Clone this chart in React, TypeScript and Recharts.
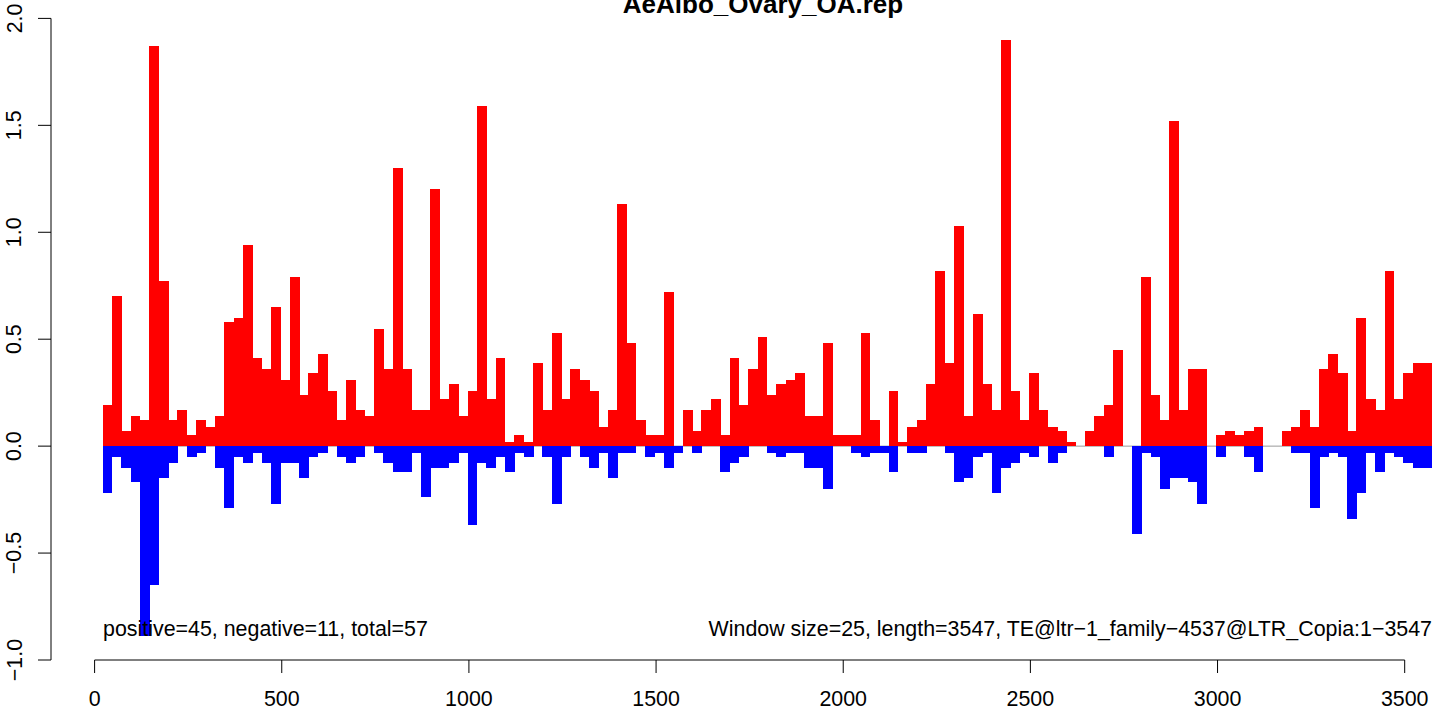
import { BarChart, Bar, XAxis, YAxis, ReferenceLine } from "recharts";

const windowSize = 25;

// mean signal per 25 bp window
const positive = [
  0.19, 0.7, 0.07, 0.14, 0.12, 1.87, 0.77, 0.12, 0.17, 0.05,
  0.12, 0.09, 0.14, 0.58, 0.6, 0.94, 0.41, 0.36, 0.65, 0.31,
  0.79, 0.24, 0.34, 0.43, 0.26, 0.12, 0.31, 0.17, 0.14, 0.55,
  0.36, 1.3, 0.36, 0.17, 0.17, 1.2, 0.22, 0.29, 0.14, 0.26,
  1.59, 0.22, 0.41, 0.02, 0.05, 0.02, 0.39, 0.17, 0.53, 0.22,
  0.36, 0.31, 0.26, 0.09, 0.17, 1.13, 0.48, 0.12, 0.05, 0.05,
  0.72, 0, 0.17, 0.07, 0.17, 0.22, 0.05, 0.41, 0.19, 0.36,
  0.51, 0.24, 0.29, 0.31, 0.34, 0.14, 0.14, 0.48, 0.05, 0.05,
  0.05, 0.53, 0.12, 0, 0.26, 0.02, 0.09, 0.12, 0.29, 0.82,
  0.39, 1.03, 0.14, 0.62, 0.29, 0.17, 1.9, 0.26, 0.12, 0.34,
  0.17, 0.09, 0.07, 0.02, 0, 0.07, 0.14, 0.19, 0.45, 0,
  0, 0.79, 0.24, 0.12, 1.52, 0.17, 0.36, 0.36, 0, 0.05,
  0.07, 0.05, 0.07, 0.09, 0, 0, 0.07, 0.09, 0.17, 0.09,
  0.36, 0.43, 0.34, 0.07, 0.6, 0.22, 0.17, 0.82, 0.22, 0.34,
  0.39, 0.39,
];

const negative = [
  -0.22, -0.05, -0.1, -0.17, -0.89, -0.65, -0.15, -0.08, 0, -0.05,
  -0.03, 0, -0.1, -0.29, -0.05, -0.08, -0.03, -0.08, -0.27, -0.08,
  -0.08, -0.15, -0.05, -0.03, 0, -0.05, -0.08, -0.05, 0, -0.03,
  -0.08, -0.12, -0.12, -0.03, -0.24, -0.1, -0.1, -0.08, -0.03, -0.37,
  -0.08, -0.1, -0.05, -0.12, -0.03, -0.05, 0, -0.05, -0.27, -0.05,
  0, -0.05, -0.1, -0.03, -0.15, -0.03, -0.03, 0, -0.05, -0.03,
  -0.1, -0.03, 0, -0.03, 0, 0, -0.12, -0.08, -0.05, 0,
  0, -0.03, -0.05, -0.03, -0.03, -0.1, -0.1, -0.2, 0, 0,
  -0.03, -0.05, -0.03, -0.03, -0.12, 0, -0.03, -0.03, 0, 0,
  -0.03, -0.17, -0.15, -0.05, -0.03, -0.22, -0.1, -0.08, -0.03, -0.05,
  0, -0.08, -0.03, 0, 0, 0, 0, -0.05, 0, 0,
  -0.41, -0.03, -0.05, -0.2, -0.15, -0.15, -0.17, -0.27, 0, -0.05,
  0, 0, -0.05, -0.12, 0, 0, 0, -0.03, -0.03, -0.29,
  -0.05, -0.03, -0.05, -0.34, -0.22, -0.03, -0.12, -0.03, -0.05, -0.08,
  -0.1, -0.1,
];

const xTicks = [0, 500, 1000, 1500, 2000, 2500, 3000, 3500];
const yTicks = [-1, -0.5, 0, 0.5, 1, 1.5, 2];
const yTickLabels = ["\u22121.0", "\u22120.5", "0.0", "0.5", "1.0", "1.5", "2.0"];

const title = "AeAlbo_Ovary_OA.rep";
const leftNote = "positive=45, negative=11, total=57";
const rightNote = "Window size=25, length=3547, TE@ltr\u22121_family\u22124537@LTR_Copia:1\u22123547";

const data = positive.map((p, i) => ({
  pos: (i + 1) * windowSize + 10,
  positive: p,
  negative: negative[i],
}));

const W = 1441;
const H = 708;
const xMin = -116.5;
const xMax = 3597;
const plotLeft = 51;
const barPx = (windowSize * (W - plotLeft)) / (xMax - xMin);
const font = "'Liberation Sans', Arial, Helvetica, sans-serif";
const fs = 21.4;

// recharts rounds bar widths, so redraw each bar at the exact window width
const WindowBar = (props: any) => {
  const { x, width, fill } = props;
  let { y, height } = props;
  if (!height) return null;
  if (height < 0) {
    y = y + height;
    height = -height;
  }
  const cx = x + width / 2;
  return (
    <rect
      x={cx - barPx / 2}
      y={y}
      width={barPx + 0.5}
      height={height}
      fill={fill}
      shapeRendering="crispEdges"
    />
  );
};

const XTick = (props: any) => (
  <text x={props.x} y={706} textAnchor="middle" fontSize={fs} fontFamily={font} fill="#000">
    {props.payload.value}
  </text>
);

const YTick = (props: any) => {
  const idx = yTicks.indexOf(props.payload.value);
  return (
    <text
      x={21.5}
      y={props.y}
      transform={`rotate(-90 21.5 ${props.y})`}
      textAnchor="middle"
      fontSize={fs}
      fontFamily={font}
      fill="#000"
    >
      {yTickLabels[idx]}
    </text>
  );
};

const zeroLineProps: any = { zIndex: -10 };

export default function App() {
  return (
    <div style={{ position: "absolute", left: 0, top: 0, width: W, height: H, background: "#fff" }}>
      <BarChart
        width={W}
        height={H}
        data={data}
        margin={{ top: 18.4, right: 0, bottom: 0, left: 0 }}
        stackOffset="sign"
        barCategoryGap={0}
        barGap={0}
      >
        <XAxis
          dataKey="pos"
          type="number"
          domain={[xMin, xMax]}
          allowDataOverflow
          ticks={xTicks}
          height={48}
          axisLine={false}
          tickLine={{ stroke: "#000" }}
          tickSize={13}
          tick={<XTick />}
        />
        <YAxis
          type="number"
          domain={[-1, 2]}
          allowDataOverflow
          ticks={yTicks}
          width={plotLeft}
          axisLine={{ stroke: "#000" }}
          tickLine={{ stroke: "#000" }}
          tickSize={13}
          tick={<YTick />}
        />
        <ReferenceLine
          segment={[{ x: 22.5, y: 0 }, { x: 3572.5, y: 0 }]}
          stroke="#9a9a9a"
          ifOverflow="visible"
          {...zeroLineProps}
        />
        <Bar
          dataKey="positive"
          stackId="s"
          fill="#ff0000"
          barSize={barPx}
          shape={<WindowBar />}
          isAnimationActive={false}
        />
        <Bar
          dataKey="negative"
          stackId="s"
          fill="#0000ff"
          barSize={barPx}
          shape={<WindowBar />}
          isAnimationActive={false}
        />
        <ReferenceLine
          segment={[{ x: 0, y: -1 }, { x: 3500, y: -1 }]}
          stroke="#000"
          ifOverflow="visible"
        />
      </BarChart>
      <svg
        width={W}
        height={H}
        style={{ position: "absolute", left: 0, top: 0, pointerEvents: "none" }}
        fontFamily={font}
      >
        <text x={763} y={12.7} textAnchor="middle" fontSize={26} fontWeight="bold" fill="#000">
          {title}
        </text>
        <text x={103} y={636} textAnchor="start" fontSize={fs} fill="#000">
          {leftNote}
        </text>
        <text x={1432} y={636} textAnchor="end" fontSize={fs} fill="#000">
          {rightNote}
        </text>
      </svg>
    </div>
  );
}
